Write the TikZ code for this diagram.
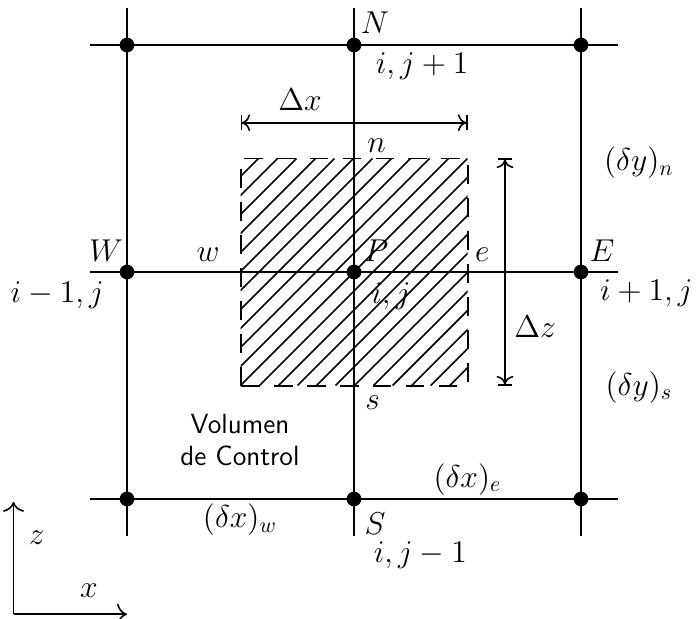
\documentclass[tikz,border=0pt]{standalone}
\usepackage{amsmath}
\usetikzlibrary{arrows.meta, positioning, calc}
\tikzset{
  gridline/.style={line width=1pt},
  gdot/.style={circle, fill=black, inner sep=0pt, minimum size=0.26cm},
  lbl/.style={font=\Large, scale=1.1, transform shape, inner sep=0pt, anchor=base},
  cvlbl/.style={font=\sffamily\large, scale=1.16, transform shape, align=center},
  dimarr/.style={line width=0.8pt, {Bar[width=0.26cm]To[length=4pt]}-{To[length=4pt]Bar[width=0.26cm]}},
  axarr/.style={line width=0.8pt, -{To[length=5pt]}},
  hatchline/.style={line width=0.8pt},
  cvbox/.style={line width=1pt, dash pattern=on 0.33cm off 0.25cm},
}

\begin{document}
\begin{tikzpicture}
  \useasboundingbox (-6.238,-6.097) rectangle (6.026,4.793);

  \begin{scope}
    \clip (-2,-2) rectangle (2,2);
    \foreach \c in {-4.02,-3.685,...,4.1}
      \draw[hatchline] (\c-2,-2) -- (\c+2,2);
  \end{scope}
  \draw[cvbox] (-2,-2) rectangle (2,2);

  \foreach \y in {-4,0,4}
    \draw[gridline] (-4.65,\y) -- (4.65,\y);
  \foreach \x in {-4,0,4}
    \draw[gridline] (\x,-4.65) -- (\x,4.65);

  \node[gdot] (NW) at (-4,4) {};
  \node[gdot] (N) at (0,4) {};
  \node[gdot] (NE) at (4,4) {};
  \node[gdot] (W) at (-4,0) {};
  \node[gdot] (P) at (0,0) {};
  \node[gdot] (E) at (4,0) {};
  \node[gdot] (SW) at (-4,-4) {};
  \node[gdot] (S) at (0,-4) {};
  \node[gdot] (SE) at (4,-4) {};

  \node[lbl] (Nlbl) at (0.37,4.21) {$N$};
  \node[lbl] (Nidx) at (1.2,3.49) {$i,j+1$};
  \node[lbl] (Wlbl) at (-4.37,0.18) {$W$};
  \node[lbl] (Widx) at (-5.23,-0.53) {$i-1,j$};
  \node[lbl] (Elbl) at (4.37,0.18) {$E$};
  \node[lbl] (Eidx) at (5.15,-0.5) {$i+1,j$};
  \node[lbl] (Plbl) at (0.39,0.18) {$P$};
  \node[lbl] (Pidx) at (0.65,-0.55) {$i,j$};
  \node[lbl] (Slbl) at (0.37,-4.62) {$S$};
  \node[lbl] (Sidx) at (1.17,-5.12) {$i,j-1$};
  \node[lbl] (nface) at (0.40,2.11) {$n$};
  \node[lbl] (sface) at (0.33,-2.43) {$s$};
  \node[lbl] (wface) at (-2.57,0.18) {$w$};
  \node[lbl] (eface) at (2.26,0.18) {$e$};
  \node[lbl] (dyn) at (5.02,1.78) {$(\delta y)_n$};
  \node[lbl] (dys) at (5.02,-2.17) {$(\delta y)_s$};
  \node[lbl] (dxe) at (2.0,-3.79) {$(\delta x)_e$};
  \node[lbl] (dxw) at (-2.01,-4.51) {$(\delta x)_w$};
  \node[cvlbl] (cv) at (-2.01,-2.96) {Volumen\\de Control};

  \coordinate (dxl) at (-2,2.63);
  \coordinate (dxr) at (2,2.63);
  \draw[dimarr] (dxl) -- (dxr);
  \node[lbl] (dxlbl) at (-0.95,2.85) {$\Delta x$};

  \coordinate (dzt) at (2.66,2);
  \coordinate (dzb) at (2.66,-2);
  \draw[dimarr] (dzt) -- (dzb);
  \node[lbl] (dzlbl) at (3.19,-1.15) {$\Delta z$};

  \coordinate (orig) at (-6.0,-6.03);
  \coordinate (zend) at (-6.0,-4.05);
  \coordinate (xend) at (-4.0,-6.03);
  \draw[axarr] (orig) -- (zend);
  \draw[axarr] (orig) -- (xend);
  \node[lbl] (zlbl) at (-5.59,-4.81) {$z$};
  \node[lbl] (xlbl) at (-4.67,-5.73) {$x$};
\end{tikzpicture}
\end{document}
